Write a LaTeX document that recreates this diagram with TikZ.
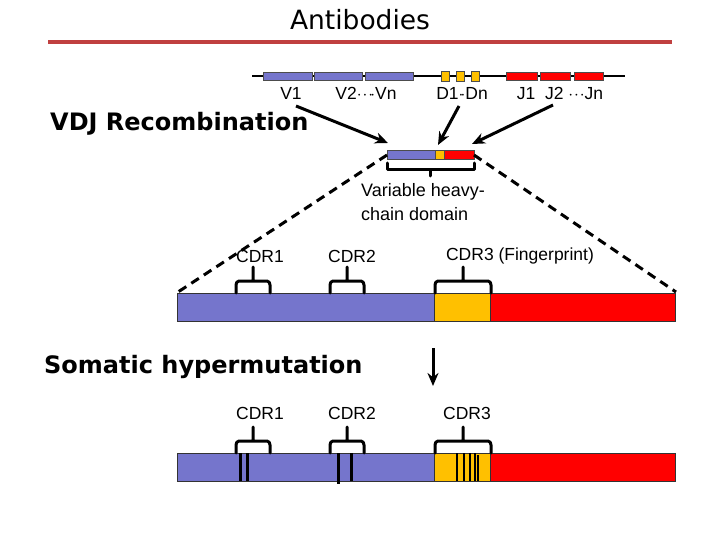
\documentclass[tikz,border=0pt]{standalone}
\usepackage{fontspec}
\setmainfont{Liberation Sans}
\newfontfamily\titlef{DejaVu Sans}
\definecolor{vb}{RGB}{117,117,204}
\definecolor{dy}{RGB}{255,192,0}
\definecolor{jr}{RGB}{255,0,0}
\definecolor{ul}{RGB}{192,64,64}
\usetikzlibrary{arrows.meta}
\begin{document}
\begin{tikzpicture}[x=1pt,y=-1pt,
  seg/.style={draw=black!70,line width=0.8pt},
  lab/.style={font=\fontsize{17.5}{20}\selectfont,inner sep=0pt},
  big/.style={font=\titlef\bfseries\fontsize{24}{26}\selectfont,inner sep=0pt},
  brk/.style={line width=3pt,line cap=round,line join=round},
  arr/.style={line width=3pt,-{Stealth[length=13pt,width=11pt]}},
  dsh/.style={line width=3pt,dash pattern=on 9pt off 6pt}]
\useasboundingbox (0,0) rectangle (720,540);
\node[font=\titlef\fontsize{26.5}{28}\selectfont,inner sep=0pt] (title) at (360,20) {Antibodies};
\draw[ul,line width=3.5pt] (48,42) coordinate (ula) -- (672,42) coordinate (ulb);
% germline
\coordinate (gl) at (252,76); \coordinate (gr) at (625,76);
\draw[line width=2.5pt] (gl) -- (gr);
\foreach \a/\b in {263/312,314/362,365/413} \fill[vb,seg] (\a,72) rectangle (\b,80);
\foreach \a in {441,456,471} \fill[dy,seg] (\a,71) rectangle (\a+8,81);
\foreach \a/\b in {506/537,540/570,574/603} \fill[jr,seg] (\a,72) rectangle (\b,80);
\node[lab] (v1) at (291,93) {V1};
\node[lab] (vn) at (366,93) {V2$\cdot\!\cdot\!\cdot\!\cdot$Vn};
\node[lab] (dn) at (462,93) {D1$\cdot\!\cdot$Dn};
\node[lab] (jn) at (560,93) {J1\ \ J2 $\cdot\!\cdot\!\cdot$Jn};
\node[big,anchor=west] (vdj) at (50,124) {VDJ Recombination};
% small chain
\fill[vb,seg] (387,150) rectangle (435,159);
\fill[dy,seg] (435,150) rectangle (444,159);
\fill[jr,seg] (444,150) rectangle (474,159);
\coordinate (sa) at (387,155); \coordinate (sb) at (474,155);
\coordinate (t1) at (388,143); \coordinate (t2) at (438,145); \coordinate (t3) at (472,144);
\draw[arr] (296,106) -- (t1);
\draw[arr] (459,106) -- (t2);
\draw[arr] (553,105) -- (t3);
\draw[brk] (387,163) -- (387,170) -- (474,170) -- (474,163) (430,170) -- (430,176);
\node[lab,anchor=west,align=left,font=\fontsize{18}{24}\selectfont] (vh) at (361,202) {Variable heavy-\\chain domain};
% dashed
\draw[dsh] (sa) -- (178,292);
\draw[dsh] (sb) -- (676,292);
% big bars
\foreach \y in {293,453}{
 \fill[vb,draw=black!80,line width=0.8pt] (177,\y) rectangle (434,\y+28);
 \fill[dy,draw=black!80,line width=0.8pt] (434,\y) rectangle (490,\y+28);
 \fill[jr,draw=black!80,line width=0.8pt] (490,\y) rectangle (675,\y+28);
 \foreach \a/\b in {236/270,330/364,435/491}
  \draw[brk] (\a,\y) -- (\a,\y-8) to[out=90,in=180] (\a+3,\y-12) -- (\b-3,\y-12) to[out=0,in=90] (\b,\y-8) -- (\b,\y)
   ({(\a+\b)/2},\y-12) -- ({(\a+\b)/2},\y-26);
}
\node[lab] (c1) at (260,256) {CDR1};
\node[lab] (c2) at (352,256) {CDR2};
\node[lab] (c3) at (520,256) {CDR3 (Fingerprint)};
\node[big,anchor=west] (sh) at (44,367) {Somatic hypermutation};
\coordinate (da) at (433,348); \coordinate (db) at (433,386);
\draw[arr] (da) -- (db);
\node[lab] (d1) at (260,413) {CDR1};
\node[lab] (d2) at (352,413) {CDR2};
\node[lab] (d3) at (467,413) {CDR3};
\foreach \x in {240,247,351} \draw[line width=3pt] (\x,453) -- (\x,481);
\draw[line width=3pt] (338,453) -- (338,484);
\foreach \x in {457,464,470,475} \draw[line width=2.6pt] (\x,453) -- (\x,481);
\draw[line width=1.5pt] (478,455) -- (478,481);
\end{tikzpicture}
\end{document}
